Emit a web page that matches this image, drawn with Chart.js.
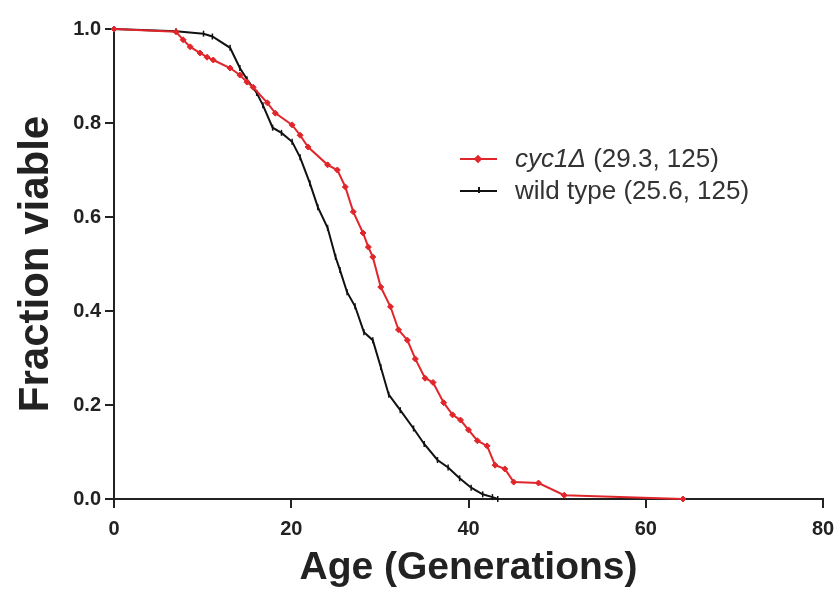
<!DOCTYPE html>
<html>
<head>
<meta charset="utf-8">
<title>Replicative lifespan</title>
<script src="https://cdn.jsdelivr.net/npm/chart.js@4"></script>
<style>
  body { margin: 0; background: #fff; }
  #wrap { position: relative; width: 839px; height: 593px; }
  #legend { position: absolute; left: 460px; top: 142px; font-family: "Liberation Sans", Arial, sans-serif; font-size: 26px; color: #333; }
  .row { position: relative; height: 32px; line-height: 32px; padding-left: 55px; white-space: nowrap; }
  .row .ln { position: absolute; left: 0; top: 16px; width: 37px; height: 2px; }
  .row .mk { position: absolute; }
  .red .ln { background: #e0262b; }
  .red .mk { left: 15px; top: 14px; width: 6px; height: 6px; background: #e0262b; transform: rotate(45deg); }
  .blk .ln { background: #111; }
  .blk .mk { left: 18px; top: 13px; width: 1.5px; height: 6px; background: #111; }
</style>
</head>
<body>
<div id="wrap">
  <canvas id="survChart" width="839" height="593"></canvas>
  <div id="legend">
    <div class="row red"><span class="ln"></span><span class="mk"></span><i>cyc1Δ</i> (29.3, 125)</div>
    <div class="row blk"><span class="ln"></span><span class="mk"></span>wild type (25.6, 125)</div>
  </div>
</div>
<script>
// cyc1 deletion
const cycAge = [0, 7, 7.8, 8.6, 9.7, 10.5, 11.2, 13.1, 14.2, 15, 15.7, 17.3, 18.2, 20.1, 21, 21.9, 24.1, 25.2, 26.1, 27, 28.1, 28.7, 29.2, 30.1, 31.2, 32.1, 33.1, 34, 35.1, 36, 37.2, 38.2, 39.1, 40, 41, 42.1, 43, 44.1, 45.1, 47.9, 50.8, 64.2];
const cycViable = [1.0, 0.994, 0.977, 0.962, 0.949, 0.94, 0.934, 0.917, 0.902, 0.887, 0.876, 0.843, 0.821, 0.796, 0.774, 0.749, 0.711, 0.70, 0.664, 0.611, 0.566, 0.536, 0.515, 0.451, 0.409, 0.36, 0.338, 0.298, 0.257, 0.248, 0.205, 0.179, 0.168, 0.147, 0.124, 0.113, 0.072, 0.064, 0.036, 0.034, 0.008, 0.0];

// wild type
const wtAge = [0, 7, 10.1, 11.1, 13.1, 14.2, 15, 16.1, 16.8, 17.9, 18.9, 20.1, 21, 22.1, 23, 24.1, 25, 25.5, 26.3, 27.2, 28.2, 29.2, 30.1, 31, 32.3, 33.8, 35, 36.5, 37.7, 39, 40.3, 41.6, 42.7, 43.3];
const wtViable = [1.0, 0.995, 0.99, 0.984, 0.96, 0.917, 0.893, 0.864, 0.838, 0.79, 0.779, 0.76, 0.727, 0.672, 0.621, 0.577, 0.515, 0.487, 0.44, 0.41, 0.355, 0.338, 0.281, 0.222, 0.189, 0.15, 0.117, 0.083, 0.067, 0.044, 0.024, 0.01, 0.004, 0.0];

const xTicks = [0, 20, 40, 60, 80];
const yTicks = [0, 0.2, 0.4, 0.6, 0.8, 1.0];

const toPts = (xs, ys) => xs.map((x, i) => ({ x: x, y: ys[i] }));

const axisCol = '#222';
const tickFont = { family: 'Liberation Sans, Arial, sans-serif', size: 20, weight: 'bold' };
const xTitleFont = { family: 'Liberation Sans, Arial, sans-serif', size: 39, weight: 'bold' };
const yTitleFont = { family: 'Liberation Sans, Arial, sans-serif', size: 42, weight: 'bold' };

const ctx = document.getElementById('survChart').getContext('2d');
const survChart = new Chart(ctx, {
    type: 'scatter',
    data: {
        datasets: [{
            label: 'cyc1Δ (29.3, 125)',
            data: toPts(cycAge, cycViable),
            showLine: true,
            borderColor: '#e0262b',
            backgroundColor: '#e0262b',
            borderWidth: 2,
            pointStyle: 'rectRot',
            pointRadius: 3,
            pointBorderWidth: 1,
            tension: 0,
            clip: false
        }, {
            label: 'wild type (25.6, 125)',
            data: toPts(wtAge, wtViable),
            showLine: true,
            borderColor: '#111',
            backgroundColor: '#111',
            borderWidth: 2,
            pointStyle: 'line',
            rotation: 90,
            pointRadius: 3,
            pointBorderWidth: 1.5,
            tension: 0,
            clip: false
        }]
    },
    options: {
        responsive: false,
        animation: false,
        layout: { padding: { left: 0, right: 16, top: 29, bottom: 0 } },
        plugins: {
            legend: { display: false },
            tooltip: { enabled: false }
        },
        scales: {
            x: {
                type: 'linear',
                min: 0, max: 80,
                afterBuildTicks: s => { s.ticks = xTicks.map(v => ({ value: v })); },
                // keep the plot edge fixed, the last label fits in the padding
                afterFit: s => { s.height = 94; s.paddingLeft = 0; s.paddingRight = 0; },
                border: { display: true, color: axisCol, width: 2 },
                grid: { drawOnChartArea: false, drawTicks: true, tickLength: 9, color: axisCol, lineWidth: 2 },
                ticks: { color: axisCol, font: tickFont, padding: 9, maxRotation: 0 },
                title: { display: true, text: 'Age (Generations)', color: '#222', font: xTitleFont, padding: { top: 0, bottom: 1 } }
            },
            y: {
                type: 'linear',
                min: 0, max: 1,
                afterBuildTicks: s => { s.ticks = yTicks.map(v => ({ value: v })); },
                afterFit: s => { s.width = 114; },
                border: { display: true, color: axisCol, width: 2 },
                grid: { drawOnChartArea: false, drawTicks: true, tickLength: 9, color: axisCol, lineWidth: 2 },
                ticks: { color: axisCol, font: tickFont, padding: 4, callback: v => v.toFixed(1) },
                title: { display: true, text: 'Fraction viable', color: '#222', font: yTitleFont, padding: { top: 11, bottom: 0 } }
            }
        }
    }
});
</script>
</body>
</html>
